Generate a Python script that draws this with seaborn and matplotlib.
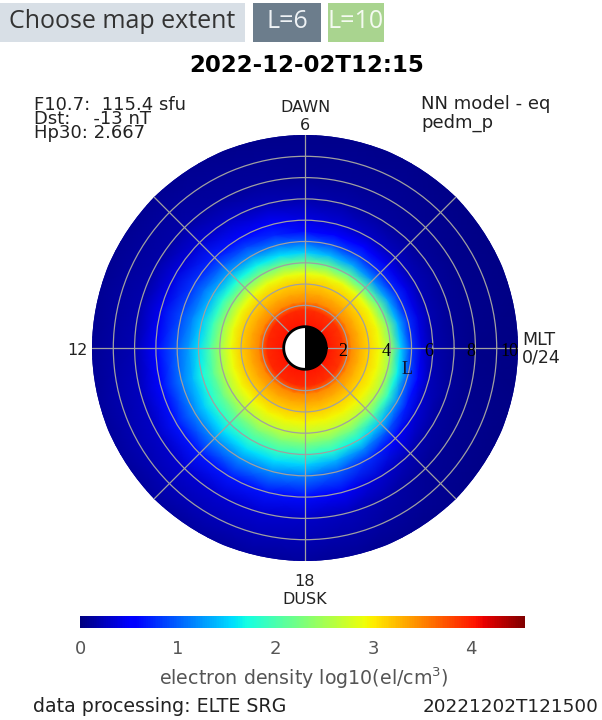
import numpy as np
import matplotlib
matplotlib.use("Agg")
import matplotlib.pyplot as plt
import matplotlib.transforms as mtransforms
from matplotlib.patches import Rectangle
import seaborn as sns

# L shells (rows of the model grid) and MLT hours (columns)
l_shells = [1.0, 1.8, 2.2, 2.6, 3.0, 3.5, 4.0, 4.5, 5.0, 5.5, 6.0, 7.0, 8.0, 10.6]
mlt_hours = list(range(24))

# log10 electron density (el/cm^3), one list per MLT hour
dens_mlt00 = [4.05, 3.87, 3.45, 3.28, 3.12, 2.93, 2.50, 1.50, 0.80, 0.38, 0.18, 0.10, 0.05, 0.02]
dens_mlt01 = [4.05, 3.87, 3.45, 3.28, 3.12, 2.92, 2.35, 1.40, 0.78, 0.40, 0.20, 0.10, 0.06, 0.03]
dens_mlt02 = [4.05, 3.88, 3.45, 3.28, 3.12, 2.90, 2.18, 1.28, 0.75, 0.42, 0.23, 0.11, 0.07, 0.03]
dens_mlt03 = [4.05, 3.89, 3.45, 3.29, 3.13, 2.88, 2.05, 1.20, 0.73, 0.44, 0.25, 0.12, 0.08, 0.03]
dens_mlt04 = [4.05, 3.90, 3.46, 3.30, 3.14, 2.88, 2.10, 1.30, 0.82, 0.50, 0.30, 0.14, 0.09, 0.04]
dens_mlt05 = [4.05, 3.92, 3.47, 3.31, 3.15, 2.88, 2.18, 1.40, 0.90, 0.55, 0.35, 0.16, 0.10, 0.05]
dens_mlt06 = [4.05, 3.93, 3.48, 3.32, 3.16, 2.88, 2.25, 1.50, 1.00, 0.60, 0.40, 0.18, 0.10, 0.05]
dens_mlt07 = [4.05, 3.93, 3.48, 3.32, 3.16, 2.88, 2.27, 1.58, 1.10, 0.74, 0.50, 0.23, 0.12, 0.05]
dens_mlt08 = [4.05, 3.93, 3.48, 3.32, 3.16, 2.88, 2.30, 1.67, 1.20, 0.87, 0.60, 0.28, 0.14, 0.06]
dens_mlt09 = [4.05, 3.93, 3.48, 3.32, 3.16, 2.88, 2.33, 1.75, 1.30, 0.98, 0.70, 0.33, 0.16, 0.06]
dens_mlt10 = [4.05, 3.93, 3.48, 3.32, 3.16, 2.88, 2.38, 1.82, 1.38, 1.07, 0.80, 0.38, 0.17, 0.06]
dens_mlt11 = [4.05, 3.93, 3.48, 3.32, 3.16, 2.88, 2.43, 1.90, 1.47, 1.15, 0.90, 0.45, 0.19, 0.07]
dens_mlt12 = [4.05, 3.93, 3.48, 3.32, 3.16, 2.88, 2.48, 1.98, 1.58, 1.25, 1.00, 0.52, 0.21, 0.07]
dens_mlt13 = [4.05, 3.93, 3.48, 3.32, 3.16, 2.90, 2.53, 2.07, 1.70, 1.38, 1.12, 0.60, 0.26, 0.08]
dens_mlt14 = [4.05, 3.93, 3.48, 3.32, 3.16, 2.92, 2.58, 2.15, 1.80, 1.48, 1.18, 0.64, 0.30, 0.08]
dens_mlt15 = [4.05, 3.93, 3.48, 3.32, 3.16, 2.93, 2.62, 2.22, 1.88, 1.55, 1.22, 0.66, 0.33, 0.08]
dens_mlt16 = [4.05, 3.93, 3.48, 3.32, 3.16, 2.94, 2.65, 2.26, 1.91, 1.57, 1.23, 0.67, 0.33, 0.08]
dens_mlt17 = [4.05, 3.93, 3.48, 3.32, 3.16, 2.95, 2.67, 2.28, 1.91, 1.55, 1.20, 0.65, 0.32, 0.08]
dens_mlt18 = [4.05, 3.93, 3.48, 3.32, 3.16, 2.95, 2.68, 2.28, 1.88, 1.50, 1.15, 0.62, 0.30, 0.08]
dens_mlt19 = [4.05, 3.92, 3.47, 3.31, 3.15, 2.95, 2.68, 2.25, 1.80, 1.36, 0.98, 0.48, 0.24, 0.06]
dens_mlt20 = [4.05, 3.90, 3.46, 3.30, 3.14, 2.95, 2.65, 2.17, 1.66, 1.18, 0.78, 0.33, 0.16, 0.05]
dens_mlt21 = [4.05, 3.89, 3.45, 3.29, 3.13, 2.95, 2.62, 2.06, 1.45, 0.95, 0.56, 0.20, 0.10, 0.04]
dens_mlt22 = [4.05, 3.88, 3.45, 3.28, 3.12, 2.94, 2.58, 1.85, 1.18, 0.68, 0.35, 0.14, 0.08, 0.03]
dens_mlt23 = [4.05, 3.87, 3.45, 3.28, 3.12, 2.93, 2.54, 1.65, 0.95, 0.50, 0.24, 0.11, 0.06, 0.02]

grid_l = [2, 3, 4, 5, 6, 7, 8, 9]
label_l = [2, 4, 6, 8, 10]
cbar_ticks = [0, 1, 2, 3, 4]

title = "2022-12-02T12:15"
info_left = "F10.7:  115.4 sfu\nDst:    -13 nT\nHp30: 2.667"
info_right = "NN model - eq\npedm_p"

W, H = 602, 720

sns.set_style("white")
cmap = matplotlib.colormaps["jet"]

fig = plt.figure(figsize=(W / 100, H / 100), dpi=100)
fig.patch.set_facecolor("white")


def px(x, y):
    return x / W, 1 - y / H


# polar map, MLT 0 to the right, counter-clockwise
ax = fig.add_axes([92 / W, 1 - 561 / H, 426 / W, 426 / H], projection="polar")
ax.set_theta_zero_location("E")
ax.set_theta_direction(1)

density = np.array([dens_mlt00, dens_mlt01, dens_mlt02, dens_mlt03, dens_mlt04, dens_mlt05,
                    dens_mlt06, dens_mlt07, dens_mlt08, dens_mlt09, dens_mlt10, dens_mlt11,
                    dens_mlt12, dens_mlt13, dens_mlt14, dens_mlt15, dens_mlt16, dens_mlt17,
                    dens_mlt18, dens_mlt19, dens_mlt20, dens_mlt21, dens_mlt22, dens_mlt23])
# close the ring: MLT 24 is MLT 0
z = np.vstack([density, density[:1]]).T
theta = np.array(mlt_hours + [24]) / 24 * 2 * np.pi
mesh = ax.pcolormesh(theta, l_shells, z, shading="gouraud", cmap=cmap, vmin=0, vmax=4.55)

ax.set_ylim(0, 10)
ax.set_yticks(grid_l)
ax.set_yticklabels([])
ax.set_xticks(np.deg2rad(np.arange(0, 360, 45)))
ax.set_xticklabels([])
ax.set_axisbelow(False)
ax.grid(True, color="#a0a0a0", linewidth=0.9)
ax.spines["polar"].set_visible(False)
ax.set_facecolor("#00008f")

# Earth: day side white, night side black
ax.bar(np.pi, 1.0, width=np.pi, bottom=0, color="white", edgecolor="none", zorder=4)
ax.bar(0, 1.0, width=np.pi, bottom=0, color="black", edgecolor="none", zorder=4)
ring = np.linspace(0, 2 * np.pi, 200)
ax.plot(ring, np.ones_like(ring), color="black", lw=2, zorder=5)

# radial labels
shift = mtransforms.offset_copy(ax.transData, fig=fig, x=0, y=-4, units="dots")
for l in label_l:
    ax.text(0, l, str(l), transform=shift, ha="right", va="center",
            family="Liberation Serif", fontsize=13, color="black", zorder=6)
ax.text(0, 4.8, "L", transform=mtransforms.offset_copy(ax.transData, fig=fig, x=0, y=-22, units="dots"),
        ha="center", va="center", family="Liberation Serif", fontsize=13, color="#111133", zorder=6)

# MLT labels around the disk
fs = 11.5
fig.text(*px(305, 107), "DAWN", ha="center", va="center", fontsize=fs, color="#222222")
fig.text(*px(305, 125), "6", ha="center", va="center", fontsize=fs, color="#222222")
fig.text(*px(88, 350), "12", ha="right", va="center", fontsize=fs, color="#222222")
fig.text(*px(522, 340), "MLT", ha="left", va="center", fontsize=12.5, color="#222222")
fig.text(*px(522, 358), "0/24", ha="left", va="center", fontsize=12.5, color="#222222")
fig.text(*px(305, 582), "18", ha="center", va="center", fontsize=fs, color="#222222")
fig.text(*px(305, 600), "DUSK", ha="center", va="center", fontsize=fs, color="#222222")

fig.text(*px(34, 96), info_left, ha="left", va="top", fontsize=13, linespacing=0.72, color="#222222")
fig.text(*px(421, 95), info_right, ha="left", va="top", fontsize=13, linespacing=1.05, color="#222222")

fig.text(*px(307, 65), title, ha="center", va="center", fontsize=16.5, fontweight="bold", color="black")

# buttons at the top
buttons = [
    (0, 245, "#d8dfe6", "Choose map extent", "#333333"),
    (253, 321, "#6c7d8c", "L=6", "#eef2f5"),
    (328, 384, "#a9d48f", "L=10", "#f4faf0"),
]
for x0, x1, bg, txt, fg in buttons:
    fig.patches.append(Rectangle(px(x0, 42), (x1 - x0) / W, 39 / H, transform=fig.transFigure,
                                 facecolor=bg, edgecolor="none"))
    fig.text(*px((x0 + x1) / 2, 22), txt, ha="center", va="center", fontsize=18,
             family="Open Sans", color=fg)

# colorbar
cax = fig.add_axes([80 / W, 1 - 628 / H, 445 / W, 12 / H])
cbar = fig.colorbar(mesh, cax=cax, orientation="horizontal", ticks=cbar_ticks)
cbar.outline.set_visible(False)
cax.tick_params(length=0, pad=9, labelsize=13, labelcolor="#555555")
fig.text(*px(304, 678), "electron density log10(el/cm$^3$)", ha="center", va="center",
         fontsize=13.7, color="#555555")

fig.text(*px(33, 707), "data processing: ELTE SRG", ha="left", va="center", fontsize=13.7, color="#222222")
fig.text(*px(598, 707), "20221202T121500", ha="right", va="center", fontsize=13.2, color="#222222")

fig.savefig("out.png", dpi=100)
